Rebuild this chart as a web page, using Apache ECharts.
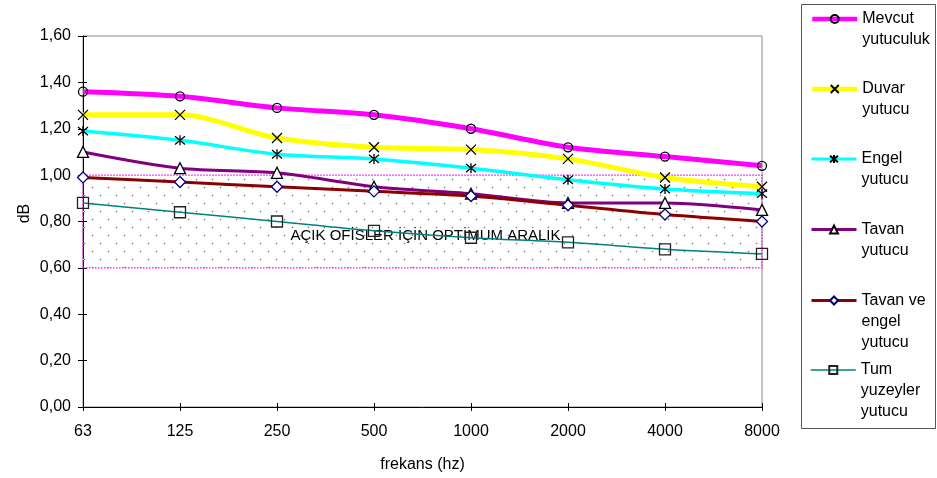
<!DOCTYPE html>
<html>
<head>
<meta charset="utf-8">
<script src="https://cdn.jsdelivr.net/npm/echarts@6/dist/echarts.min.js"></script>
<style>
  html, body { margin: 0; padding: 0; background: #fff; }
  #chart { width: 937px; height: 478px; }
</style>
</head>
<body>
<div id="chart"></div>
<script>
// Frequency bands (Hz)
const categories = ['63', '125', '250', '500', '1000', '2000', '4000', '8000'];

// Reverberation values per absorber configuration
const mevcut      = [1.36, 1.34, 1.29, 1.26, 1.20, 1.12, 1.08, 1.04];
const duvar       = [1.26, 1.26, 1.16, 1.12, 1.11, 1.07, 0.99, 0.95];
const engel       = [1.19, 1.15, 1.09, 1.07, 1.03, 0.98, 0.94, 0.92];
const tavan       = [1.10, 1.03, 1.01, 0.95, 0.92, 0.88, 0.88, 0.85];
const tavanEngel  = [0.99, 0.97, 0.95, 0.93, 0.91, 0.87, 0.83, 0.80];
const tumYuzeyler = [0.88, 0.84, 0.80, 0.76, 0.73, 0.71, 0.68, 0.66];

// Recommended range for open offices
const optimumRange = [0.60, 1.00];
const optimumLabel = 'AÇIK OFİSLER İÇİN OPTİMUM ARALIK';

const yTickLabels = ['0,00', '0,20', '0,40', '0,60', '0,80', '1,00', '1,20', '1,40', '1,60'];

const seriesNames = [
  'Mevcut\nyutuculuk',
  'Duvar\nyutucu',
  'Engel\nyutucu',
  'Tavan\nyutucu',
  'Tavan ve\nengel\nyutucu',
  'Tum\nyuzeyler\nyutucu'
];

const FONT = "'Liberation Sans', Arial, sans-serif";

// Staggered dot fill for the optimum band
function dotPattern() {
  const c = document.createElement('canvas');
  c.width = 16; c.height = 16;
  const g = c.getContext('2d');
  function dot(x, y) {
    g.fillStyle = '#dcdcdc';
    g.fillRect(x - 1, y, 3, 1);
    g.fillRect(x, y - 1, 1, 3);
    g.fillStyle = '#8a8a8a';
    g.fillRect(x, y, 1, 1);
  }
  dot(4, 3);
  dot(12, 11);
  return c;
}

const xSym = 'path://M0,0L10,10M10,0L0,10';
const starSym = 'path://M0,0L10,10M10,0L0,10M5,-1L5,11';

function lineSeries(name, data, color, width, symbol, size, fill, border, extra) {
  return Object.assign({
    name: name,
    type: 'line',
    data: data,
    smooth: 0.3,
    symbol: symbol,
    symbolSize: size,
    showAllSymbol: true,
    lineStyle: { color: color, width: width },
    itemStyle: { color: fill, borderColor: border, borderWidth: 1.3 },
    emphasis: { disabled: true },
    z: 3
  }, extra || {});
}

const series = [
  lineSeries(seriesNames[0], mevcut, '#FF00FF', 5, 'circle', 9, 'rgba(0,0,0,0)', '#000'),
  lineSeries(seriesNames[1], duvar, '#FFFF00', 5, xSym, 10, 'rgba(0,0,0,0)', '#000'),
  lineSeries(seriesNames[2], engel, '#00FFFF', 3.5, starSym, 10, 'rgba(0,0,0,0)', '#000'),
  lineSeries(seriesNames[3], tavan, '#800080', 3, 'triangle', 11, '#fff', '#000'),
  lineSeries(seriesNames[4], tavanEngel, '#8B0000', 3, 'diamond', 11, '#fff', '#000080', {
    markArea: {
      silent: true,
      z: 1,
      itemStyle: {
        color: { image: dotPattern(), repeat: 'repeat' },
        borderColor: '#FF00FF',
        borderWidth: 1.2,
        borderType: [1.5, 1.5]
      },
      label: {
        show: true,
        position: 'inside',
        offset: [3, 14],
        color: '#000',
        fontSize: 15,
        fontFamily: FONT
      },
      data: [[
        { name: optimumLabel, yAxis: optimumRange[0], xAxis: categories[0] },
        { yAxis: optimumRange[1], xAxis: categories[categories.length - 1] }
      ]]
    }
  }),
  lineSeries(seriesNames[5], tumYuzeyler, '#008080', 1.5, 'rect', 11, 'rgba(0,0,0,0)', '#222')
];

// One legend block per series, stacked in the framed box on the right.
// Blank leading lines keep the first text line level with the icon.
const legendCenters = [17, 87, 157, 227.5, 298.5, 368];
const legendLineWidths = [4.5, 4.5, 3, 3, 3, 1.5];
const legends = seriesNames.map(function (name, i) {
  const lines = name.split('\n').length;
  return {
    orient: 'vertical',
    left: 810,
    top: legendCenters[i] + 2 - (2 * lines - 1) * 10.5,
    padding: 0,
    itemWidth: 45,
    itemHeight: 10,
    selectedMode: false,
    data: [name],
    lineStyle: { width: legendLineWidths[i] },
    formatter: function (n) {
      return '\n'.repeat(lines - 1) + n;
    },
    textStyle: {
      color: '#000',
      fontSize: 16,
      fontFamily: FONT,
      lineHeight: 21
    }
  };
});

const chart = echarts.init(document.getElementById('chart'), null, { renderer: 'canvas' });

chart.setOption({
  animation: false,
  backgroundColor: '#fff',
  textStyle: { fontFamily: FONT },
  grid: {
    left: 83, right: 175, top: 36, bottom: 70,
    show: true, borderColor: '#8a8a8a', borderWidth: 1, backgroundColor: 'transparent'
  },
  legend: legends,
  xAxis: [{
    type: 'category',
    data: categories,
    boundaryGap: false,
    name: 'frekans (hz)',
    nameLocation: 'middle',
    nameGap: 50,
    nameTextStyle: { color: '#000', fontSize: 16, fontFamily: FONT },
    axisLine: { lineStyle: { color: '#000', width: 1 } },
    axisTick: { show: true, length: 4, alignWithLabel: true, lineStyle: { color: '#000' } },
    axisLabel: { color: '#000', fontSize: 16, margin: 17, fontFamily: FONT },
    splitLine: { show: false }
  }, {
    type: 'category',
    data: categories,
    boundaryGap: false,
    position: 'bottom',
    axisLine: { show: false },
    axisTick: { show: true, inside: true, length: 4, lineStyle: { color: '#000' } },
    axisLabel: { show: false },
    splitLine: { show: false }
  }],
  yAxis: [{
    type: 'value',
    min: 0, max: 1.6, interval: 0.2,
    name: 'dB',
    nameLocation: 'middle',
    nameGap: 50,
    nameMoveOverlap: false,
    nameTextStyle: { color: '#000', fontSize: 16, fontFamily: FONT, padding: [0, 0, 0, 16] },
    axisLine: { show: true, lineStyle: { color: '#000', width: 1 } },
    axisTick: { show: true, length: 5, lineStyle: { color: '#000' } },
    axisLabel: {
      color: '#000', fontSize: 16, margin: 12, fontFamily: FONT,
      formatter: function (v) { return yTickLabels[Math.round(v / 0.2)]; }
    },
    splitLine: { show: false }
  }, {
    type: 'value',
    min: 0, max: 1.6, interval: 0.2,
    position: 'left',
    axisLine: { show: false },
    axisTick: { show: true, inside: true, length: 4, lineStyle: { color: '#000' } },
    axisLabel: { show: false },
    splitLine: { show: false }
  }],
  graphic: [{
    type: 'rect',
    shape: { x: 801.5, y: 4.5, width: 134, height: 424 },
    style: { fill: 'none', stroke: '#555', lineWidth: 1 },
    z: 0
  }],
  series: series
});
</script>
</body>
</html>
